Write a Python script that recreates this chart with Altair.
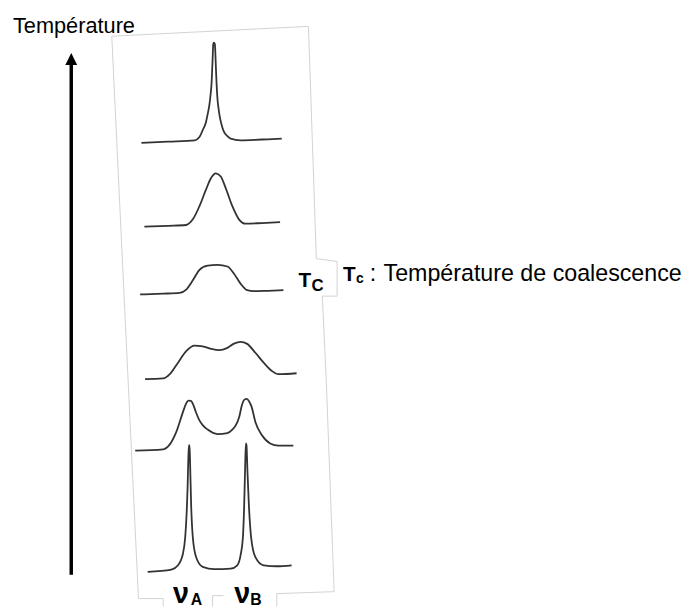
import altair as alt
import pandas as pd

# ---------------- data (diagram units = reference pixels) ----------------
# Six NMR traces, from high temperature (top) to low temperature (bottom)
t1_x = [143, 170, 197, 201.7, 205, 208.3, 210, 211.7, 213, 214, 215, 215.7, 216.3, 217.3, 218.3, 219, 220, 221.3, 222.7, 224.5, 226.7, 230, 233.3, 243.3, 265, 285]
t1_y = [141, 139.7, 138.3, 135, 128, 120, 112, 103, 92, 80, 57, 41, 39.5, 41, 63, 80, 97, 108, 116.7, 124, 130, 134, 136.7, 138.3, 137.5, 136.7]

t2_x = [146, 170, 188.3, 195, 201.7, 208.3, 213.3, 218.3, 223.3, 228.3, 235, 241.7, 248.3, 265, 283.3]
t2_y = [225.7, 224.8, 224, 218.3, 205, 188.3, 176.7, 171.7, 175, 186.7, 205, 218.3, 222.7, 222, 221]

t3_x = [141.7, 165, 181.7, 188.3, 195, 201.7, 210, 220, 230, 236.7, 243.3, 250, 256.7, 270, 286.7]
t3_y = [294.3, 293.5, 292.7, 289.3, 280, 269.3, 265, 264.3, 266, 273.3, 283.3, 290, 291, 290.6, 290]

t4_x = [146.7, 165, 171.7, 180, 188.3, 196.7, 205, 213.3, 221.7, 230, 236.7, 243.3, 250, 258.3, 266.7, 275, 281.7, 300]
t4_y = [380, 379.3, 375, 363.3, 351.7, 346, 346.7, 349.3, 350.7, 348.3, 344, 342.3, 344.3, 353.3, 363.3, 371.7, 375, 374]

t5_x = [136.7, 165, 171.7, 178.3, 185, 188.3, 190.5, 193, 195.5, 198, 201.7, 205, 210, 220, 230, 235, 238.3, 242, 244.5, 247, 249.5, 252, 254.5, 258.3, 265, 273.3, 281.7, 296.7]
t5_y = [452.3, 451, 446, 433.3, 413.3, 404.5, 401.8, 402, 406, 413, 421.7, 426.5, 431, 435.5, 434.5, 431, 427, 418, 407, 401, 400, 402.5, 408, 423.3, 436.7, 445, 447.3, 447.3]

t6_x = [149.3, 173.3, 180, 185, 187.3, 188.7, 189.7, 190.3, 191, 191.7, 192.3, 193.3, 195, 198.3, 205, 216.7,
        233.3, 240, 243.3, 245.7, 247, 248, 248.7, 249.3, 250.3, 251.7, 254, 258.3, 266.7, 280, 295]
t6_y = [575, 572.7, 568.3, 556.7, 540, 516.7, 490, 466.7, 446.7, 446.7, 466.7, 506.7, 540, 560, 570, 572.3,
        571.7, 568.3, 558.3, 540, 506.7, 466.7, 445, 446.7, 473.3, 506.7, 540, 560, 568.3, 569.3, 568.3]

traces = [(t1_x, t1_y), (t2_x, t2_y), (t3_x, t3_y), (t4_x, t4_y), (t5_x, t5_y), (t6_x, t6_y)]

# faint outline of the scanned page
frame_x = [165, 140, 113, 312, 320, 341, 341, 326, 330, 338, 280, 280]
frame_y = [602, 602, 33, 23, 258, 261, 296, 296, 380, 595, 597, 610]
box_x = [165, 165]
box_y = [602, 610]
box2_x = [215, 215, 226]
box2_y = [610, 599, 599]

# temperature arrow
arrow_x = [72, 72]
arrow_y = [578, 60]
head_x = [72]
head_y = [56]

title_text = ["Température"]
tc_label = ["T", "C"]
tc_desc = ["T", "c", ":", "Température de coalescence"]
nu_labels = ["ν", "A", "ν", "B"]

# ---------------- build tables ----------------
rows = []
for i, (xs, ys) in enumerate(traces):
    for j, (x, y) in enumerate(zip(xs, ys)):
        rows.append({"x": x, "y": y, "trace": f"t{i+1}", "o": j})
spec_df = pd.DataFrame(rows)

frows = []
for k, (xs, ys) in enumerate([(frame_x, frame_y), (box_x, box_y), (box2_x, box2_y)]):
    for j, (x, y) in enumerate(zip(xs, ys)):
        frows.append({"x": x, "y": y, "seg": f"f{k}", "o": j})
frame_df = pd.DataFrame(frows)

X = alt.Scale(domain=[8, 692])
Y = alt.Scale(domain=[610, 8])
FONT = "Liberation Sans"


def xenc():
    return alt.X("x:Q", scale=X, axis=None)


def yenc():
    return alt.Y("y:Q", scale=Y, axis=None)


frame = alt.Chart(frame_df).mark_line(color="#d2d2d2", strokeWidth=1).encode(
    x=xenc(), y=yenc(), detail="seg:N", order="o:Q"
)

spectra = alt.Chart(spec_df).mark_line(
    color="#333333", strokeWidth=1.8, interpolate="monotone"
).encode(x=xenc(), y=yenc(), detail="trace:N", order="o:Q")

shaft = alt.Chart(pd.DataFrame({"x": arrow_x, "y": arrow_y, "o": [0, 1]})).mark_line(
    color="black", strokeWidth=3.5
).encode(x=xenc(), y=yenc(), order="o:Q")

head = alt.Chart(pd.DataFrame({"x": head_x, "y": head_y})).mark_point(
    shape="M0,-1L1,1L-1,1Z", size=144, filled=True, color="black", opacity=1, strokeWidth=0
).encode(x=xenc(), y=yenc())


def text_layer(texts, xs, ys, size, bold=False):
    df = pd.DataFrame({"t": texts, "x": xs, "y": ys})
    return alt.Chart(df).mark_text(
        align="left", baseline="alphabetic", font=FONT, fontSize=size,
        fontWeight="bold" if bold else "normal", color="black"
    ).encode(x=xenc(), y=yenc(), text="t:N")


title = text_layer(title_text, [13], [30], 22)
tc_T = text_layer([tc_label[0]], [302], [287], 21, bold=True)
tc_C = text_layer([tc_label[1]], [315], [291], 17, bold=True)
desc_T = text_layer([tc_desc[0]], [347], [281], 21, bold=True)
desc_c = text_layer([tc_desc[1]], [360], [283], 14, bold=True)
desc_colon = text_layer([tc_desc[2]], [374], [281], 23.5)
desc_rest = text_layer([tc_desc[3]], [388], [281], 23.5)
nu = text_layer([nu_labels[0], nu_labels[2]], [175, 237], [606, 606], 29, bold=True)
nu_sub = text_layer([nu_labels[1], nu_labels[3]], [193, 253], [609, 609], 16, bold=True)

chart = alt.layer(
    frame, spectra, shaft, head, title, tc_T, tc_C, desc_T, desc_c, desc_colon, desc_rest, nu, nu_sub
).properties(
    width=684, height=602, padding=0, autosize=alt.AutoSizeParams(type="none"),
    background="white"
).configure_view(stroke=None)

chart.save("out.html", embed_options={"renderer": "svg", "actions": False})
